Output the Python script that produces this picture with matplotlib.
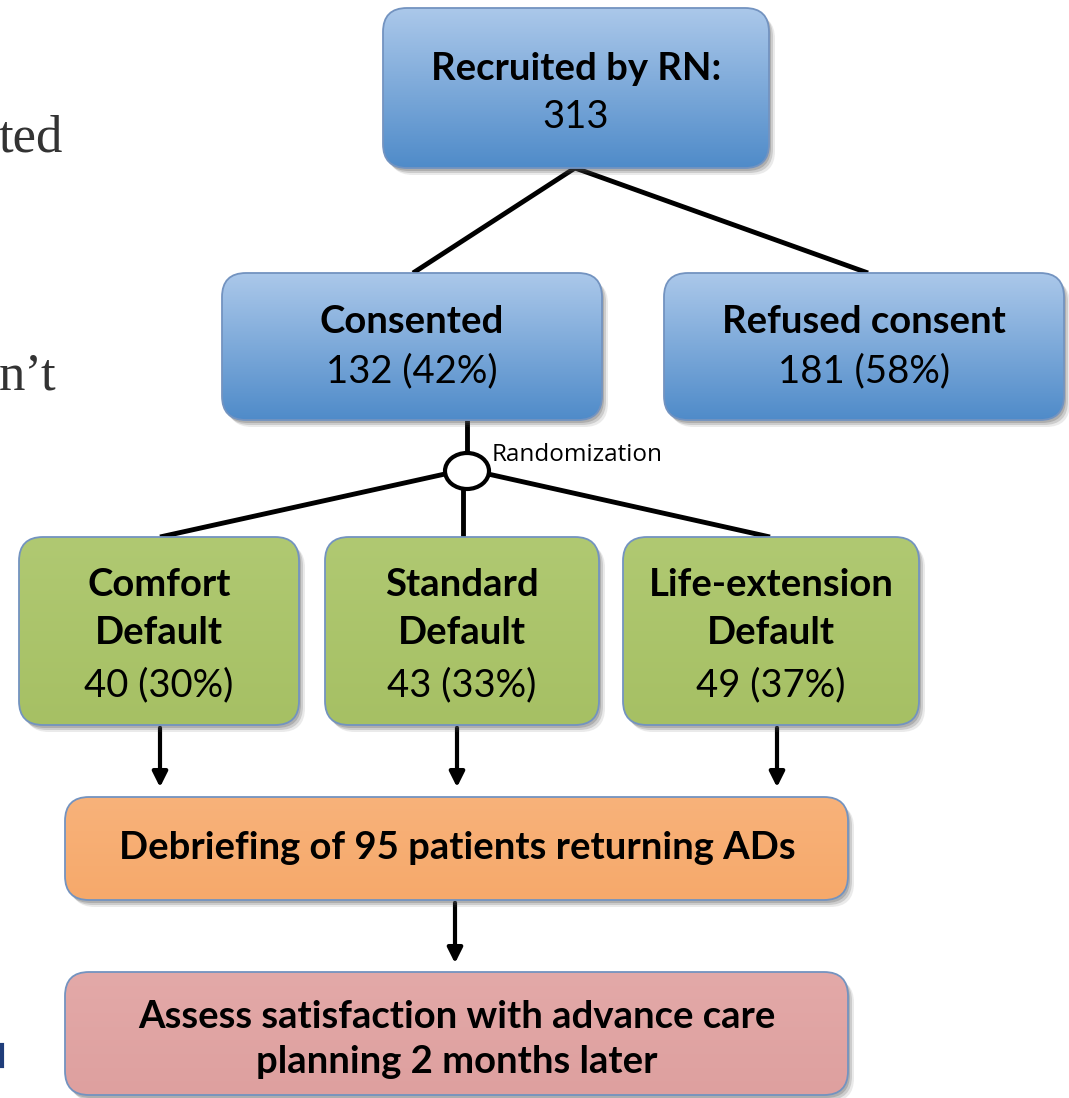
import numpy as np
import matplotlib
matplotlib.use('Agg')
import matplotlib.pyplot as plt
from matplotlib.patches import FancyBboxPatch, Ellipse
from matplotlib.colors import LinearSegmentedColormap

recruited = 313
consent_labels = ['Consented', 'Refused consent']
consent_counts = [132, 181]
consent_pcts = [42, 58]
arm_labels = [('Comfort', 'Default'), ('Standard', 'Default'), ('Life-extension', 'Default')]
arm_counts = [40, 43, 49]
arm_pcts = [30, 33, 37]
debriefed = 95

plt.rcParams['font.family'] = ['Lato', 'DejaVu Sans']
FS = 27.5

W, H = 1069, 1098
fig = plt.figure(figsize=(W / 100, H / 100), dpi=100)
ax = fig.add_axes([0, 0, 1, 1])
ax.set_xlim(0, W)
ax.set_ylim(H, 0)
ax.axis('off')

EDGE = '#7393c0'


def box(x0, y0, x1, y1, top, bottom, r=24):
    w, h = x1 - x0, y1 - y0
    for k, a in [(6, 0.12), (4, 0.2), (2, 0.25)]:
        sh = FancyBboxPatch((x0 + k, y0 + k + 1), w, h, boxstyle=f'round,pad=0,rounding_size={r}',
                            fc='#555555', ec='none', alpha=a, zorder=1)
        ax.add_patch(sh)
    p = FancyBboxPatch((x0, y0), w, h, boxstyle=f'round,pad=0,rounding_size={r}',
                       fc='none', ec=EDGE, lw=1.3, zorder=3)
    ax.add_patch(p)
    cmap = LinearSegmentedColormap.from_list('g', [top, bottom])
    im = ax.imshow(np.linspace(0, 1, 256).reshape(-1, 1), extent=(x0, x1, y1, y0),
                   cmap=cmap, aspect='auto', zorder=2)
    im.set_clip_path(p)


def line(xs, ys):
    ax.plot(xs, ys, color='black', lw=3.5, zorder=0, solid_capstyle='butt')


def arrow(x, y0, y1):
    ax.annotate('', xy=(x, y1), xytext=(x, y0),
                arrowprops=dict(arrowstyle='-|>,head_length=0.9,head_width=0.45', color='black', lw=3),
                zorder=0)


def label(x, y, s, bold=False):
    ax.text(x, y, s, fontsize=FS, fontweight='bold' if bold else 'normal',
            ha='center', va='center', zorder=5)


BLUE = ('#abc8ea', '#4f8bc9')
GREEN = ('#b0c972', '#a6c064')
ORANGE = ('#f8b27a', '#f6a96b')
PINK = ('#e3a9a8', '#dea09f')

# connectors
line([575, 413], [168, 273])
line([575, 868], [168, 273])
line([467, 467], [420, 455])
line([445, 160], [474, 537])
line([463, 463], [488, 537])
line([488, 770], [474, 537])
arrow(160, 725, 790)
arrow(457, 725, 790)
arrow(777, 725, 790)
arrow(455, 900, 966)

ax.add_patch(Ellipse((467, 471), 44, 36, fc='white', ec='black', lw=3, zorder=4))
ax.text(492, 455, 'Randomization', fontsize=17.5, ha='left', va='center',
        family=['Open Sans', 'DejaVu Sans'])

# top box
box(383, 8, 769, 168, *BLUE)
label(576, 69, 'Recruited by RN:', bold=True)
label(576, 117, f'{recruited}')

# consent boxes
cons_x = [(222, 602), (664, 1064)]
for (x0, x1), lab, n, pc in zip(cons_x, consent_labels, consent_counts, consent_pcts):
    box(x0, 273, x1, 420, *BLUE)
    xc = (x0 + x1) / 2
    label(xc, 322, lab, bold=True)
    label(xc, 371, f'{n} ({pc}%)')

# arms
arm_x = [(19, 299), (325, 599), (623, 919)]
for (x0, x1), (l1, l2), n, pc in zip(arm_x, arm_labels, arm_counts, arm_pcts):
    box(x0, 537, x1, 725, *GREEN)
    xc = (x0 + x1) / 2
    label(xc, 585, l1, bold=True)
    label(xc, 633, l2, bold=True)
    label(xc, 685, f'{n} ({pc}%)')

box(65, 797, 848, 900, *ORANGE)
label(457, 848, f'Debriefing of {debriefed} patients returning ADs', bold=True)

box(65, 972, 848, 1095, *PINK)
label(457, 1017, 'Assess satisfaction with advance care', bold=True)
label(457, 1062, 'planning 2 months later', bold=True)

# slide fragments on the left edge
ax.text(63, 138, 'ted', fontsize=38, color='#333333', ha='right', va='center',
        family=['Liberation Serif', 'DejaVu Serif'])
ax.text(56, 376, 'n\u2019t', fontsize=38, color='#333333', ha='right', va='center',
        family=['Liberation Serif', 'DejaVu Serif'])
ax.plot([1.5, 1.5], [1045, 1066], color='#1f3d7a', lw=3, zorder=5)

ax.set_xlim(0, W)
ax.set_ylim(H, 0)
fig.savefig('out.png', dpi=100)
